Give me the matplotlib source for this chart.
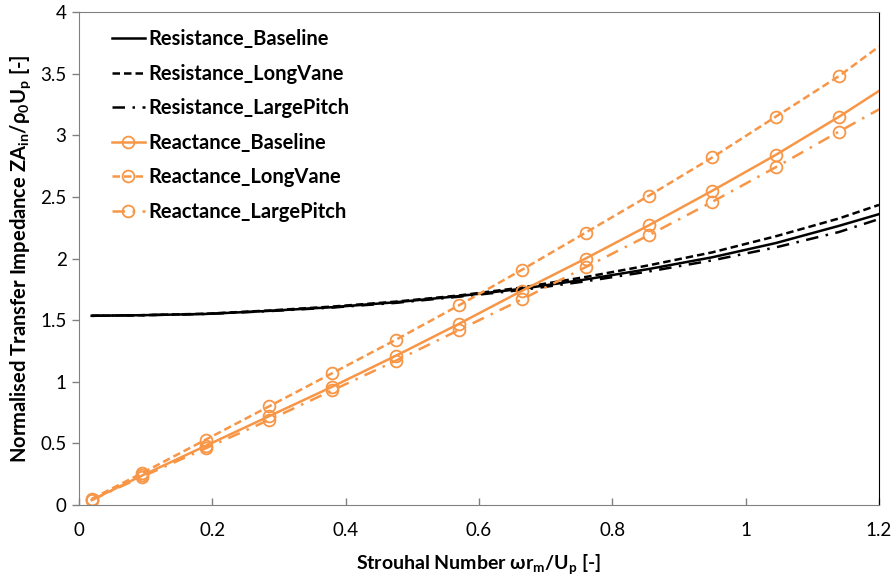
import matplotlib
matplotlib.use('Agg')
import matplotlib.pyplot as plt
import numpy as np

# Strouhal number points (last point = end of the line, no marker)
strouhal = [0.019, 0.095, 0.19, 0.285, 0.38, 0.475, 0.57, 0.665, 0.76, 0.855, 0.95, 1.045, 1.14, 1.2]

# Resistance (no markers)
res_baseline = [1.535, 1.54, 1.55, 1.575, 1.605, 1.645, 1.695, 1.755, 1.83, 1.915, 2.01, 2.125, 2.265, 2.36]
res_longvane = [1.535, 1.54, 1.552, 1.578, 1.61, 1.65, 1.70, 1.765, 1.85, 1.945, 2.05, 2.18, 2.325, 2.435]
res_largepitch = [1.535, 1.54, 1.55, 1.573, 1.602, 1.64, 1.69, 1.745, 1.815, 1.895, 1.985, 2.09, 2.215, 2.32]

# Reactance (markers on all but the last point)
rea_baseline = [0.04, 0.24, 0.48, 0.72, 0.96, 1.21, 1.47, 1.74, 2.00, 2.27, 2.55, 2.84, 3.15, 3.36]
rea_longvane = [0.05, 0.26, 0.53, 0.80, 1.07, 1.34, 1.62, 1.91, 2.21, 2.51, 2.82, 3.15, 3.48, 3.72]
rea_largepitch = [0.04, 0.23, 0.46, 0.69, 0.93, 1.17, 1.42, 1.67, 1.93, 2.19, 2.46, 2.74, 3.03, 3.21]

x_ticks = [0, 0.2, 0.4, 0.6, 0.8, 1, 1.2]
y_ticks = [0, 0.5, 1, 1.5, 2, 2.5, 3, 3.5, 4]

plt.rcParams['font.family'] = ['Lato', 'DejaVu Sans']
plt.rcParams['mathtext.fontset'] = 'custom'
plt.rcParams['mathtext.rm'] = 'Lato'
plt.rcParams['mathtext.bf'] = 'Lato:bold'

orange = '#F79646'

fig = plt.figure(figsize=(8.96, 5.82), dpi=100)
ax = fig.add_axes([79 / 896, 77 / 582, 800 / 896, 493 / 582])

ax.plot(strouhal, res_baseline, '-', color='black', lw=1.8, label='Resistance_Baseline')
ax.plot(strouhal, res_longvane, color='black', lw=1.8, linestyle=(0, (3, 1.6)), label='Resistance_LongVane')
ax.plot(strouhal, res_largepitch, color='black', lw=1.8, linestyle=(0, (5, 3, 1, 3)), label='Resistance_LargePitch')

mk = dict(marker='o', markersize=8.5, markerfacecolor='none', markeredgecolor=orange,
          markeredgewidth=1.3, markevery=slice(0, 13))
ax.plot(strouhal, rea_baseline, '-', color=orange, lw=1.8, label='Reactance_Baseline', **mk)
ax.plot(strouhal, rea_longvane, color=orange, lw=1.8, linestyle=(0, (3, 1.6)), label='Reactance_LongVane', **mk)
ax.plot(strouhal, rea_largepitch, color=orange, lw=1.8, linestyle=(0, (5, 3, 1, 3)), label='Reactance_LargePitch', **mk)

ax.set_xlim(0, 1.2)
ax.set_ylim(0, 4)
ax.set_xticks(x_ticks)
ax.set_xticklabels(['0', '0.2', '0.4', '0.6', '0.8', '1', '1.2'])
ax.set_yticks(y_ticks)
ax.set_yticklabels(['0', '0.5', '1', '1.5', '2', '2.5', '3', '3.5', '4'])
ax.tick_params(axis='x', direction='in', length=5, width=1, color='#808080', labelsize=13.5, pad=12)
ax.tick_params(axis='y', direction='out', length=5, width=1, color='#808080', labelsize=13.5, pad=4)

for side in ['left', 'bottom', 'top']:
    ax.spines[side].set_color('#808080')
ax.spines['right'].set_color('black')

ax.set_xlabel(r'Strouhal Number ωr$_{\mathbf{m}}$/U$_{\mathbf{p}}$ [-]', fontsize=14, fontweight='bold', labelpad=10)
ax.set_ylabel(r'Normalised Transfer Impedance ZA$_{\mathbf{in}}$/ρ$_{\mathbf{0}}$U$_{\mathbf{p}}$ [-]',
              fontsize=14.5, fontweight='bold', labelpad=5)

leg = ax.legend(loc='upper left', bbox_to_anchor=(0.041, 0.965), frameon=False,
                borderpad=0, borderaxespad=0, handlelength=1.65, handletextpad=0.15,
                labelspacing=0.72, prop={'weight': 'bold', 'size': 14.5})

plt.savefig('out.png', dpi=100)
